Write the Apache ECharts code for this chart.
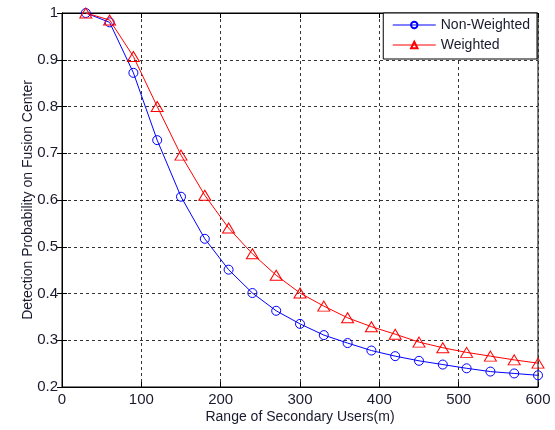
<!DOCTYPE html>
<html>
<head>
<meta charset="utf-8">
<script src="https://cdn.jsdelivr.net/npm/echarts@6/dist/echarts.min.js"></script>
<style>
  html, body { margin: 0; padding: 0; background: #fff; }
  #chart { width: 555px; height: 430px; }
</style>
</head>
<body>
<div id="chart"></div>
<script>
// Range of secondary users (m)
const ranges = [30, 60, 90, 120, 150, 180, 210, 240, 270, 300, 330, 360, 390, 420, 450, 480, 510, 540, 570, 600];
// Detection probability at the fusion center
const nonWeighted = [1.0, 0.980, 0.872, 0.728, 0.607, 0.517, 0.451, 0.401, 0.363, 0.335, 0.311, 0.294, 0.278, 0.266, 0.256, 0.248, 0.240, 0.233, 0.229, 0.225];
const weighted = [1.0, 0.985, 0.907, 0.800, 0.696, 0.610, 0.540, 0.485, 0.439, 0.401, 0.373, 0.348, 0.329, 0.313, 0.296, 0.284, 0.274, 0.266, 0.258, 0.251];
const seriesNames = ['Non-Weighted', 'Weighted'];
const xTitle = 'Range of Secondary Users(m)';
const yTitle = 'Detection Probability on Fusion Center';

const font = 'Liberation Sans, Arial, sans-serif';
const tickFont = 'Liberation Sans Narrow, Arial Narrow, Liberation Sans, sans-serif';
const textColor = '#1a1a2e';
const gridLine = { show: true, lineStyle: { color: '#333', type: [3, 3], width: 1 } };
const innerTick = { show: true, inside: true, length: 5, lineStyle: { color: '#000' } };

const pairs = a => ranges.map((x, i) => [x, a[i]]);

const chart = echarts.init(document.getElementById('chart'), null, { renderer: 'canvas' });
chart.setOption({
  animation: false,
  backgroundColor: '#fff',
  textStyle: { fontFamily: font },
  grid: { left: 62, right: 17, top: 13, bottom: 43, show: true, borderColor: '#000', borderWidth: 1, backgroundColor: 'transparent' },
  legend: {
    orient: 'vertical',
    right: 18,
    top: 13,
    padding: [5, 7, 7, 9],
    itemGap: 6,
    itemWidth: 43,
    itemHeight: 8,
    backgroundColor: '#fff',
    borderColor: '#000',
    borderWidth: 1,
    borderRadius: 0,
    lineStyle: { width: 1 },
    textStyle: { fontSize: 14, color: textColor, fontFamily: font, lineHeight: 14 },
    data: seriesNames
  },
  xAxis: [{
    type: 'value', min: 0, max: 600, interval: 100,
    name: xTitle, nameLocation: 'middle', nameGap: 23, nameMoveOverlap: false,
    nameTextStyle: { fontSize: 14, color: textColor, fontFamily: font, verticalAlign: 'top' },
    axisLine: { show: true, lineStyle: { color: '#000' } },
    axisTick: innerTick,
    axisLabel: { fontSize: 15, color: textColor, fontFamily: tickFont, margin: 5 },
    splitLine: gridLine
  }, {
    type: 'value', min: 0, max: 600, interval: 100, position: 'top',
    axisLine: { show: true, lineStyle: { color: '#000' } },
    axisTick: innerTick, axisLabel: { show: false }, splitLine: { show: false }
  }],
  yAxis: [{
    type: 'value', min: 0.2, max: 1, interval: 0.1,
    name: yTitle, nameLocation: 'middle', nameGap: 27, nameRotate: 90, nameMoveOverlap: false,
    nameTextStyle: { fontSize: 14, color: textColor, fontFamily: font },
    axisLine: { show: true, lineStyle: { color: '#000' } },
    axisTick: innerTick,
    axisLabel: { fontSize: 15, color: textColor, fontFamily: tickFont, margin: 4, formatter: v => String(Math.round(v * 10) / 10) },
    splitLine: gridLine
  }, {
    type: 'value', min: 0.2, max: 1, interval: 0.1, position: 'right',
    axisLine: { show: true, lineStyle: { color: '#000' } },
    axisTick: innerTick, axisLabel: { show: false }, splitLine: { show: false }
  }],
  series: [{
    name: seriesNames[0], type: 'line', data: pairs(nonWeighted),
    symbol: 'circle', symbolSize: 9, showAllSymbol: true,
    lineStyle: { color: '#0000ff', width: 1 },
    itemStyle: { color: 'transparent', borderColor: '#0000ff', borderWidth: 1 },
    emphasis: { disabled: true }
  }, {
    name: seriesNames[1], type: 'line', data: pairs(weighted),
    symbol: 'triangle', symbolSize: [12, 10], showAllSymbol: true,
    lineStyle: { color: '#ff0000', width: 1 },
    itemStyle: { color: 'transparent', borderColor: '#ff0000', borderWidth: 1 },
    emphasis: { disabled: true }
  }]
});
</script>
</body>
</html>
